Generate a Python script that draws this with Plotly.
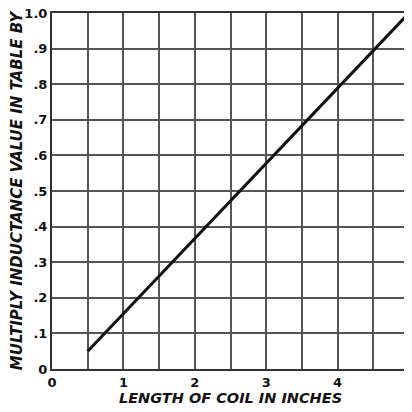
import plotly.graph_objects as go

# Data
length_in = [0.5, 5.0]
multiplier = [0.05, 1.0]

x_ticks = [0, 1, 2, 3, 4, 5]
x_ticklabels = ["0", "1", "2", "3", "4", "5"]
y_ticks = [0, 0.1, 0.2, 0.3, 0.4, 0.5, 0.6, 0.7, 0.8, 0.9, 1.0]
y_ticklabels = ["0", ".1", ".2", ".3", ".4", ".5", ".6", ".7", ".8", ".9", "1.0"]

fig = go.Figure()
fig.add_trace(go.Scatter(x=length_in, y=multiplier, mode="lines",
                         line=dict(color="#111111", width=3), showlegend=False,
                         cliponaxis=False))

grid_col = "#555555"
fnt = dict(family="DejaVu Sans", size=13, color="#111111", weight="bold")
xtfnt = dict(family="DejaVu Sans", size=14.5, color="#111111", style="italic", weight="bold")
ytfnt = dict(family="DejaVu Sans", size=15, color="#111111", style="italic", weight="bold")

# page body adds an 8px offset, so the figure is sized 404 to fill the 412 window
fig.update_layout(
    width=404, height=404,
    margin=dict(l=44, r=3, t=5, b=43),
    paper_bgcolor="white", plot_bgcolor="white",
    xaxis=dict(range=[0, 5], tickvals=x_ticks, ticktext=x_ticklabels,
               automargin=False, ticklabeloverflow="allow",
               showgrid=True, gridcolor=grid_col, gridwidth=1.5,
               minor=dict(showgrid=True, gridcolor=grid_col, gridwidth=1.5,
                          tickvals=[0.5, 1.5, 2.5, 3.5, 4.5]),
               showline=True, linecolor="#333333", linewidth=2, mirror=True,
               zeroline=False, ticks="", tickfont=fnt,
               title=dict(text="LENGTH OF COIL IN INCHES", standoff=2, font=xtfnt)),
    yaxis=dict(range=[0, 1.0], tickvals=y_ticks, ticktext=y_ticklabels,
               automargin=False, ticklabeloverflow="allow",
               showgrid=True, gridcolor=grid_col, gridwidth=1.5,
               showline=True, linecolor="#333333", linewidth=2, mirror=True,
               zeroline=False, ticks="", tickfont=fnt,
               title=dict(text="MULTIPLY INDUCTANCE VALUE IN TABLE BY", standoff=4, font=ytfnt)),
)

fig.write_html("out.html")
